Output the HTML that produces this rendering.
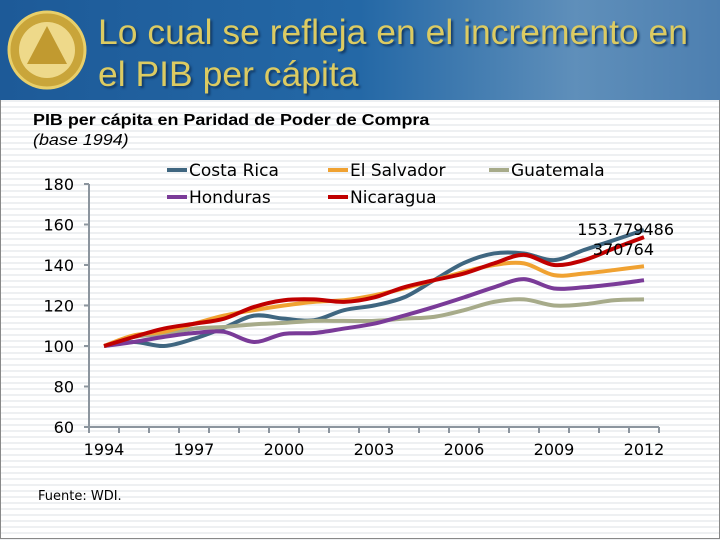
<!DOCTYPE html>
<html><head><meta charset="utf-8">
<style>
body{margin:0;width:720px;height:540px;overflow:hidden;font-family:"Liberation Sans",sans-serif;
background:#fff repeating-linear-gradient(to bottom,#fff 0px,#fff 4px,#eef0f2 4px,#eef0f2 6px);}
#hdr{position:absolute;left:0;top:0;width:720px;height:100px;background:linear-gradient(90deg,#1d5a98 0%,#2468a6 50%,#5f8fba 80%,#4d7fb0 100%);}
#title{position:absolute;left:98px;top:11px;font-size:35.5px;line-height:42px;color:#dccb62;text-shadow:2px 2px 2px #123a66;white-space:nowrap;}
#sub{position:absolute;left:33px;top:111px;font-size:16px;line-height:20px;color:#000;transform:scaleX(1.12);transform-origin:left top;white-space:nowrap;}
#frame{position:absolute;left:0;top:100px;width:718px;height:438px;border:1px solid #888;border-top:none;}
</style></head><body>
<div id="hdr">
<svg width="100" height="100" style="position:absolute;left:0;top:0">
<circle cx="47" cy="50" r="38" fill="#c9a53a" stroke="#e8cf6a" stroke-width="3"/>
<circle cx="47" cy="50" r="28" fill="#eed98a"/>
<polygon points="47,26 27,64 67,64" fill="#c19a30"/>
</svg>
<div id="title">Lo cual se refleja en el incremento en<br>el PIB per cápita</div>
</div>
<div id="frame"></div>
<div id="sub"><b>PIB per cápita en Paridad de Poder de Compra</b><br><i>(base 1994)</i></div>
<svg id="chart" width="720" height="540" style="position:absolute;left:0;top:0"></svg>
<script>
const years=["1994","1995","1996","1997","1998","1999","2000","2001","2002","2003","2004","2005","2006","2007","2008","2009","2010","2011","2012"];
const yTicks=[60,80,100,120,140,160,180];
const xLabels=["1994","1997","2000","2003","2006","2009","2012"];
const costaRica=[100,102,100,103.6,109,115,113.5,112.7,117.7,120,124,132.5,141,145.7,145.7,142.4,147.4,152.3,157.3];
const elSalvador=[100,105.3,107,111,115,117.7,120,121.8,122.6,125,128.4,132.5,136.6,140,140.8,135,135.8,137.5,139.4];
const guatemala=[100,104.5,106,108.6,109.4,110.7,111.4,112.4,112.4,112.4,113.5,114.4,117.7,121.8,123,120,120.6,122.6,123];
const honduras=[100,102,104.5,106.4,107,102,106,106.4,108.6,111,115,119.3,124,129,133,128.4,129,130.5,132.5];
const nicaragua=[100,104.5,108.6,111,113.5,119.3,122.6,123,121.8,124,129,132.5,135.8,140.8,145,140,142.4,148.2,153.78];
const series=[["costa-rica","Costa Rica",costaRica,"#3f6680"],["guatemala","Guatemala",guatemala,"#a7ab8a"],["honduras","Honduras",honduras,"#7a3b98"],["el-salvador","El Salvador",elSalvador,"#f0a232"],["nicaragua","Nicaragua",nicaragua,"#c00000"]];
const svg=document.getElementById('chart');const NS="http://www.w3.org/2000/svg";
const X0=89,Y0=427,ymin=60,ymax=180,H=243,step=30;
const xs=i=>X0+step/2+i*step;
const ys=v=>Y0-(v-ymin)/(ymax-ymin)*H;
function mk(t,a){const e=document.createElementNS(NS,t);for(const k in a)e.setAttribute(k,a[k]);svg.appendChild(e);return e;}
let ax=mk('path',{d:`M${X0} ${ys(ymax)}V${Y0}H${X0+step*years.length}`,stroke:'#8c959e','stroke-width':2,fill:'none'});


yTicks.forEach(v=>{let t=mk('line',{x1:X0-5,x2:X0,y1:ys(v),y2:ys(v),stroke:'#8c959e','stroke-width':2});


let l=mk('text',{x:X0-15,y:ys(v)+6,'text-anchor':'end','font-size':16,'font-family':'DejaVu Sans,sans-serif'});l.textContent=v;

});
for(let i=0;i<=years.length;i++){let t=mk('line',{x1:X0+i*step,x2:X0+i*step,y1:Y0,y2:Y0+6,stroke:'#8c959e','stroke-width':2});

}
xLabels.forEach(y=>{let i=years.indexOf(y);let l=mk('text',{x:xs(i),y:Y0+28,'text-anchor':'middle','font-size':16,'font-family':'DejaVu Sans,sans-serif'});l.textContent=y;

});
function smooth(p){let d=`M${p[0][0]} ${p[0][1]}`;for(let i=0;i<p.length-1;i++){const a=p[i-1]||p[i],b=p[i],c=p[i+1],e=p[i+2]||c;
d+=`C${b[0]+(c[0]-a[0])/6} ${b[1]+(c[1]-a[1])/6} ${c[0]-(e[0]-b[0])/6} ${c[1]-(e[1]-b[1])/6} ${c[0]} ${c[1]}`;}return d;}
series.forEach(s=>{const p=s[2].map((v,i)=>[xs(i),ys(v)]);let l=mk('path',{d:smooth(p),stroke:s[3],'stroke-width':4,fill:'none','stroke-linejoin':'round'});

});
const last=nicaragua[nicaragua.length-1];
let lab=mk('text',{x:674,y:ys(last)-2,'text-anchor':'end','font-size':16,'font-family':'DejaVu Sans,sans-serif'});
lab.innerHTML='<tspan x="674">153.779486</tspan><tspan x="654" dy="20">370764</tspan>';


const legend=[["costa-rica","Costa Rica","#3f6680",167,170],["el-salvador","El Salvador","#f0a232",328,170],["guatemala","Guatemala","#a7ab8a",489,170],["honduras","Honduras","#7a3b98",167,197],["nicaragua","Nicaragua","#c00000",328,197]];
legend.forEach(g=>{let ln=mk('line',{x1:g[3],x2:g[3]+20,y1:g[4],y2:g[4],stroke:g[2],'stroke-width':4});


let t=mk('text',{x:g[3]+22,y:g[4]+6,'font-size':17,'font-family':'DejaVu Sans,sans-serif'});t.textContent=g[1];

});
let src=mk('text',{x:38,y:500,'font-size':13,'font-family':'DejaVu Sans,sans-serif'});src.textContent='Fuente: WDI.';


</script>
</body></html>
